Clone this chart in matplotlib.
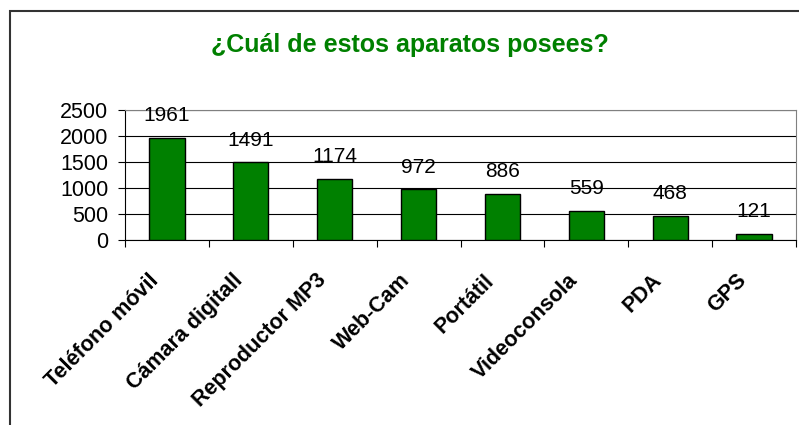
# bar chart of devices owned (Spanish survey)
import matplotlib
matplotlib.use("Agg")
import matplotlib.pyplot as plt
from matplotlib.patches import Rectangle

# data
categories = ["Teléfono móvil", "Cámara digitall", "Reproductor MP3", "Web-Cam",
              "Portátil", "Videoconsola", "PDA", "GPS"]
values = [1961, 1491, 1174, 972, 886, 559, 468, 121]
yticks = [0, 500, 1000, 1500, 2000, 2500]

green = "#008000"
plt.rcParams['font.family'] = ['Liberation Sans', 'DejaVu Sans']

fig = plt.figure(figsize=(7.99, 4.25), dpi=100)

# outer chart frame (runs off the right and bottom edges)
fig.patches.append(Rectangle((10 / 799, -0.1), 1.0, (425 - 11) / 425 + 0.1,
                             transform=fig.transFigure, fill=False,
                             edgecolor="#333333", linewidth=1.5))

ax = fig.add_axes([125 / 799, (425 - 240) / 425, 671 / 799, 130 / 425])

x = range(len(categories))
ax.bar(x, values, width=0.42, color=green, edgecolor="black", linewidth=1, zorder=3)

ax.set_xlim(-0.5, len(categories) - 0.5)
ax.set_ylim(0, 2500)
ax.set_yticks(yticks)
ax.set_yticklabels([str(v) for v in yticks], fontsize=15.5)
ax.yaxis.grid(True, color="black", linewidth=0.8, zorder=0)

# x ticks between categories, labels placed by hand
ax.set_xticks([i - 0.5 for i in range(len(categories) + 1)])
ax.set_xticklabels([])
ax.tick_params(axis="x", direction="out", length=5, width=0.8)
ax.tick_params(axis="y", direction="out", length=5, width=0.8, pad=7)

for s in ["top", "right"]:
    ax.spines[s].set_color("#808080")
for s in ["left", "bottom"]:
    ax.spines[s].set_color("black")

# value labels above bars
for i, v in enumerate(values):
    ax.annotate(str(v), (i, v), xytext=(0, 16), textcoords="offset points",
                ha="center", va="center", fontsize=15)

# rotated category labels
for i, c in enumerate(categories):
    ax.annotate(c, (i, 0), xycoords=("data", "axes fraction"),
                xytext=(-8, -27), textcoords="offset points",
                rotation=45, rotation_mode="anchor", ha="right", va="center",
                fontsize=15.5, fontweight="bold", annotation_clip=False)

fig.text(410 / 799, 1 - 45 / 425, "¿Cuál de estos aparatos posees?",
         ha="center", va="center", fontsize=18, fontweight="bold", color=green)

fig.savefig("out.png", dpi=100)
